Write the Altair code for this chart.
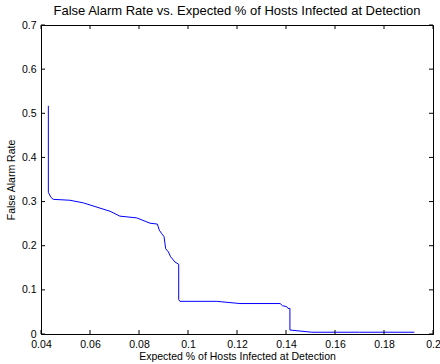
import altair as alt
import pandas as pd

# Curve values
curve_x = [0.0430, 0.0430, 0.0440, 0.0450, 0.0518, 0.0573, 0.0682, 0.0722, 0.0791,
           0.0845, 0.0875, 0.0883, 0.0893, 0.0902, 0.0909, 0.0920, 0.0929, 0.0947,
           0.0962, 0.0962, 0.0967, 0.1117, 0.1212, 0.1376, 0.1386, 0.1403, 0.1408,
           0.1416, 0.1416, 0.1505, 0.1700, 0.1924]
curve_y = [0.517, 0.321, 0.310, 0.305, 0.303, 0.297, 0.278, 0.267, 0.263,
           0.251, 0.249, 0.235, 0.227, 0.221, 0.193, 0.186, 0.175, 0.163,
           0.158, 0.078, 0.074, 0.074, 0.069, 0.069, 0.064, 0.062, 0.058,
           0.058, 0.009, 0.004, 0.004, 0.004]

x_ticks = [0.04, 0.06, 0.08, 0.1, 0.12, 0.14, 0.16, 0.18, 0.2]
y_ticks = [0, 0.1, 0.2, 0.3, 0.4, 0.5, 0.6, 0.7]

W, H = 392, 309
TL = 4
FONT = "Liberation Sans"

curve = pd.DataFrame({"x": curve_x, "y": curve_y, "i": range(len(curve_x))})
xt = pd.DataFrame({"x": x_ticks})
yt = pd.DataFrame({"y": y_ticks})

xscale = alt.Scale(domain=[0.04, 0.2], nice=False, zero=False)
yscale = alt.Scale(domain=[0, 0.7], nice=False, zero=False)
xaxis = alt.Axis(values=x_ticks, labelExpr="format(datum.value, '~g')", ticks=False,
                 grid=False, domainColor="black", labelColor="black", labelFontSize=10.5,
                 labelFont=FONT, labelPadding=5, title="Expected % of Hosts Infected at Detection",
                 titleFont=FONT, titleFontSize=10.5, titleFontWeight="normal", titleColor="black",
                 titlePadding=2, labelFlush=False)
yaxis = alt.Axis(values=y_ticks, labelExpr="format(datum.value, '~g')", ticks=False,
                 grid=False, domainColor="black", labelColor="black", labelFontSize=10.5,
                 labelFont=FONT, labelPadding=5, title="False Alarm Rate",
                 titleFont=FONT, titleFontSize=10.5, titleFontWeight="normal", titleColor="black",
                 titlePadding=5, labelFlush=False)

line = alt.Chart(curve).mark_line(color="#0000ff", strokeWidth=1, clip=True).encode(
    x=alt.X("x:Q", scale=xscale, axis=xaxis),
    y=alt.Y("y:Q", scale=yscale, axis=yaxis),
    order=alt.Order("i:Q"),
)

xb = alt.Chart(xt).mark_rule(color="black", strokeWidth=1).encode(
    x=alt.X("x:Q", scale=xscale, axis=xaxis), y=alt.value(H), y2=alt.value(H - TL))
xtop = alt.Chart(xt).mark_rule(color="black", strokeWidth=1).encode(
    x=alt.X("x:Q", scale=xscale, axis=xaxis), y=alt.value(0), y2=alt.value(TL))
yl = alt.Chart(yt).mark_rule(color="black", strokeWidth=1).encode(
    y=alt.Y("y:Q", scale=yscale, axis=yaxis), x=alt.value(0), x2=alt.value(TL))
yr = alt.Chart(yt).mark_rule(color="black", strokeWidth=1).encode(
    y=alt.Y("y:Q", scale=yscale, axis=yaxis), x=alt.value(W), x2=alt.value(W - TL))

chart = alt.layer(line, xb, xtop, yl, yr).properties(
    width=W, height=H,
    title=alt.TitleParams("False Alarm Rate vs. Expected % of Hosts Infected at Detection",
                          font=FONT, fontSize=13, fontWeight="normal", color="black",
                          anchor="middle", offset=2),
    autosize=alt.AutoSizeParams(type="none"),
    padding={"left": 41, "top": 25, "right": 7, "bottom": 30},
    background="white",
).configure_view(stroke="black", strokeWidth=1)

chart.save("out.html", embed_options={"renderer": "svg", "actions": False})
